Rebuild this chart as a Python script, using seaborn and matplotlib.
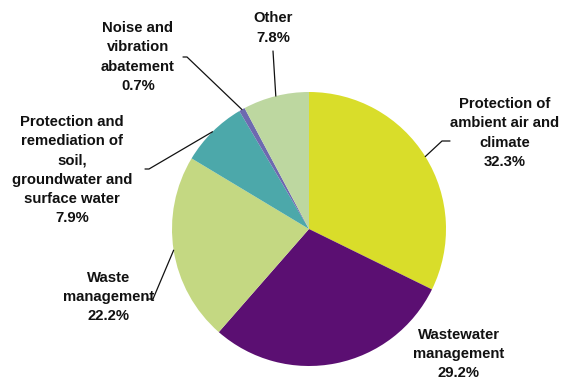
import numpy as np
import matplotlib
matplotlib.use("Agg")
import matplotlib.pyplot as plt
import seaborn as sns

categories = [
    "Protection of\nambient air and\nclimate",
    "Wastewater\nmanagement",
    "Waste\nmanagement",
    "Protection and\nremediation of\nsoil,\ngroundwater and\nsurface water",
    "Noise and\nvibration\nabatement",
    "Other",
]
shares = [32.3, 29.2, 22.2, 7.9, 0.7, 7.8]
colors = ["#d9dd2a", "#5b0f72", "#c4d882", "#4ca8aa", "#6d69b0", "#bdd7a0"]

sns.set_theme(style="white")
plt.rcParams["font.family"] = ["Liberation Sans", "DejaVu Sans"]

W, H = 566, 380
fig = plt.figure(figsize=(W / 100, H / 100), dpi=100)
ax = fig.add_axes([0, 0, 1, 1])
cx, cy, R = 309, H - 229, 137
wedges, _ = ax.pie(shares, colors=colors, startangle=90, counterclock=False,
                   center=(cx, cy), radius=R, wedgeprops=dict(linewidth=0))
ax.set_xlim(0, W)
ax.set_ylim(0, H)
ax.set_aspect("equal")
ax.axis("off")

# label layout in pixel coords (x, y from top): text center, leader elbow, leader end
layout = [
    dict(text=(505, 133), path=[(442, 141), (450, 141)]),
    dict(text=(459, 354), path=None),
    dict(text=(109, 297), path=[(153, 299), (147, 299)]),
    dict(text=(72, 170), path=[(149, 169), (145, 169)]),
    dict(text=(138, 57), path=[(187, 57), (183, 57)]),
    dict(text=(273, 28), path=[(273, 51)]),
]

for w, name, val, lay in zip(wedges, categories, shares, layout):
    tx, ty = lay["text"]
    ax.text(tx, H - ty, f"{name}\n{val:.1f}%", ha="center", va="center",
            fontsize=10.7, fontweight="bold", color="#111111", linespacing=1.48)
    if lay["path"]:
        ang = np.deg2rad((w.theta1 + w.theta2) / 2)
        px = [cx + R * np.cos(ang)] + [p[0] for p in lay["path"]]
        py = [cy + R * np.sin(ang)] + [H - p[1] for p in lay["path"]]
        ax.plot(px, py, color="#111111", lw=0.9)

fig.savefig("out.png", dpi=100)
